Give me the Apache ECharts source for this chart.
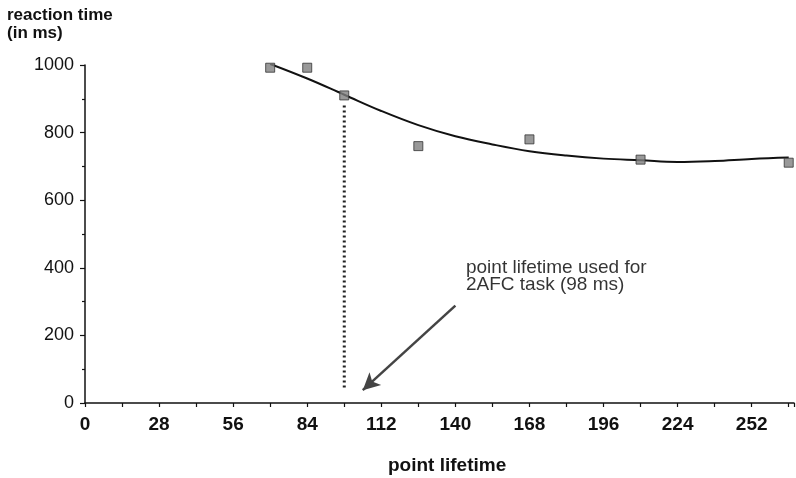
<!DOCTYPE html>
<html>
<head>
<meta charset="utf-8">
<script src="https://cdn.jsdelivr.net/npm/echarts@6.0.0/dist/echarts.min.js"></script>
<style>
    html, body { margin: 0; padding: 0; background: #fff; }
    #chart { width: 796px; height: 478px; }
</style>
</head>
<body>
<div id="chart"></div>
<script>
// measured reaction times (squares)
const lifetimes = [70, 84, 98, 126, 168, 210, 266]
const reactionTimes = [992, 992, 910, 760, 780, 720, 711]

// fitted curve
const curveX = [70, 84, 98, 112, 126, 140, 154, 168, 182, 196, 210, 224, 238, 252, 266]
const curveY = [1003, 960, 912, 864, 822, 789, 765, 745, 732, 723, 718, 713, 716, 722, 726]

// 98 ms marker and arrow
const markerX = [98, 98]
const markerY = [880, 42]
const arrowFrom = [140, 288]
const arrowTo = [105, 38]
const noteAt = [144, 375]
const noteText = "point lifetime used for\n2AFC task (98 ms)"

const xTicks = [0, 28, 56, 84, 112, 140, 168, 196, 224, 252]
const yTicks = [0, 200, 400, 600, 800, 1000]

const font = "'Liberation Sans', Arial, sans-serif"

const chart = echarts.init(document.getElementById("chart"), null, { renderer: "canvas" })

const option = {
    backgroundColor: "#fff",
    animation: false,
    grid: {
        left: 85,
        right: 2,
        top: 65,
        bottom: 75,
        outerBoundsMode: "none",
    },
    xAxis: {
        type: "value",
        min: 0,
        max: 268,
        interval: 14,
        splitLine: { show: false },
        axisLine: {
            lineStyle: { color: "#111", width: 1.5 },
        },
        axisTick: {
            length: 4,
            lineStyle: { color: "#111", width: 1.2 },
        },
        axisLabel: {
            margin: 12,
            color: "#111",
            fontFamily: font,
            fontSize: 19,
            fontWeight: "bold",
            formatter: v => (xTicks.indexOf(v) >= 0 ? String(v) : ""),
        },
    },
    yAxis: {
        type: "value",
        min: 0,
        max: 1000,
        interval: 200,
        splitLine: { show: false },
        axisLine: {
            show: true,
            lineStyle: { color: "#111", width: 1.5 },
        },
        axisTick: {
            show: true,
            length: 5,
            lineStyle: { color: "#111", width: 1.2 },
        },
        minorTick: {
            show: true,
            splitNumber: 2,
            length: 3,
            lineStyle: { color: "#111", width: 1.2 },
        },
        axisLabel: {
            margin: 11,
            color: "#111",
            fontFamily: font,
            fontSize: 18,
            formatter: v => (yTicks.indexOf(v) >= 0 ? String(v) : ""),
        },
    },
    graphic: [
        {
            type: "text",
            left: 7,
            top: 6,
            style: {
                text: "reaction time\n(in ms)",
                fontFamily: font,
                fontSize: 17,
                fontWeight: "bold",
                lineHeight: 18,
                fill: "#111",
            },
        },
        {
            type: "text",
            left: 388,
            top: 456,
            style: {
                text: "point lifetime",
                fontFamily: font,
                fontSize: 19,
                fontWeight: "bold",
                lineHeight: 20,
                fill: "#111",
            },
        },
    ],
    series: [
        {
            // fitted curve
            type: "line",
            data: curveX.map((x, i) => [x, curveY[i]]),
            smooth: 0.4,
            showSymbol: false,
            lineStyle: { color: "#111", width: 2 },
            z: 2,
        },
        {
            // dotted line at 98 ms, with the arrow
            type: "line",
            data: markerX.map((x, i) => [x, markerY[i]]),
            showSymbol: false,
            lineStyle: { color: "#222", width: 3, type: [2, 3] },
            markLine: {
                silent: true,
                symbol: ["none", "arrow"],
                symbolSize: [13, 17],
                label: { show: false },
                lineStyle: { color: "#444", width: 2.5, type: "solid" },
                data: [[{ coord: arrowFrom }, { coord: arrowTo }]],
            },
            z: 2,
        },
        {
            // note text
            type: "scatter",
            data: [noteAt],
            symbolSize: 0,
            silent: true,
            label: {
                show: true,
                position: "right",
                distance: 0,
                formatter: noteText,
                color: "#000",
                fontFamily: font,
                fontSize: 19,
                lineHeight: 17,
                align: "left",
            },
        },
        {
            // measured points
            type: "scatter",
            data: lifetimes.map((x, i) => [x, reactionTimes[i]]),
            symbol: "rect",
            symbolSize: 9,
            itemStyle: {
                color: "#808080",
                borderColor: "#333",
                borderWidth: 1,
            },
            z: 3,
        },
    ],
}

chart.setOption(option, true)
</script>
</body>
</html>
